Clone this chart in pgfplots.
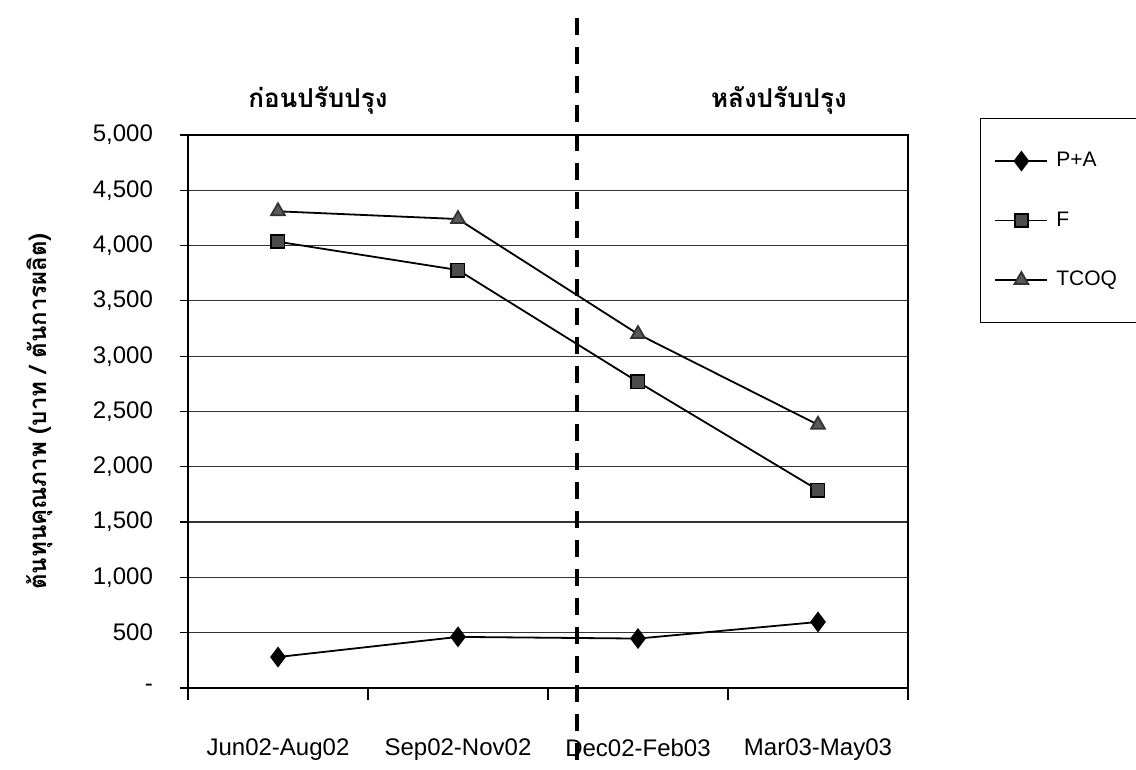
\documentclass[border=0pt]{standalone}
\usepackage{pgfplots}
\pgfplotsset{compat=1.18}
\usepackage{fontspec}
\setmainfont{Liberation Sans}
\newfontfamily\thaifont[Script=Thai]{Loma}

\begin{document}
\begin{tikzpicture}
\begin{axis}[
  at={(0pt,0pt)}, anchor=south west,
  scale only axis, width=360pt, height=276.5pt,
  clip=false,
  xmin=-0.5, xmax=3.5, ymin=0, ymax=5000,
  xtick={0,1,2,3},
  xticklabels={Jun02-Aug02,Sep02-Nov02,Dec02-Feb03,Mar03-May03},
  major x tick style={draw=none},
  minor xtick={-0.5,0.5,1.5,2.5,3.5},
  ytick={0,500,1000,1500,2000,2500,3000,3500,4000,4500,5000},
  yticklabels={-,500,{1,000},{1,500},{2,000},{2,500},{3,000},{3,500},{4,000},{4,500},{5,000}},
  tick align=outside, xtick pos=bottom, ytick pos=left,
  major tick length=4pt, minor tick length=6pt,
  tick style={black, line width=0.6pt},
  ymajorgrids, grid style={black!80, line width=0.6pt},
  axis line style={line width=0.9pt},
  yticklabel style={font=\fontsize{12}{14}\selectfont, xshift=-10pt},
  xticklabel style={font=\fontsize{12}{14}\selectfont, yshift=-18pt},
  ylabel={\thaifont\bfseries ต้นทุนคุณภาพ (บาท / ตันการผลิต)},
  ylabel style={at={(axis description cs:-0.2056,0.5)}, anchor=center,
    font=\fontsize{12}{14}\selectfont},
  legend style={at={(axis description cs:1.1,1.031)}, anchor=north west,
    draw=black, line width=0.5pt, fill=white,
    font=\fontsize{10.5}{13}\selectfont,
    row sep=17pt, inner xsep=7pt, inner ysep=15pt},
  legend cell align=left,
  legend image code/.code={%
    \draw[mark repeat=2, mark phase=2, #1]
      plot coordinates {(0pt,0pt) (13pt,0pt) (26pt,0pt)};},
]
% prevention + appraisal cost
\addplot[black, line width=0.9pt, mark=diamond*, mark size=4.5pt,
  mark options={solid, fill=black}]
  coordinates {(0,280) (1,462) (2,447) (3,597)};
\addlegendentry{\hspace{2pt}P+A}
% failure cost
\addplot[black, line width=0.9pt, mark=square*, mark size=3.3pt,
  mark options={solid, fill=black!70, draw=black}]
  coordinates {(0,4035) (1,3779) (2,2767) (3,1790)};
\addlegendentry{\hspace{2pt}F}
% total cost of quality
\addplot[black, line width=0.9pt, mark=triangle*, mark size=4pt,
  mark options={solid, fill=black!65, draw=black!80}]
  coordinates {(0,4310) (1,4240) (2,3200) (3,2380)};
\addlegendentry{\hspace{2pt}\makebox[40pt][l]{TCOQ}}

% divider between the two periods
\draw[line width=2.2pt, dash pattern=on 8.5pt off 6pt]
  (axis cs:1.661,-651) -- (axis cs:1.661,6130);
% period headings
\node[font=\thaifont\bfseries\fontsize{13}{15}\selectfont]
  at (axis cs:0.222,5316) {ก่อนปรับปรุง};
\node[font=\thaifont\bfseries\fontsize{13}{15}\selectfont]
  at (axis cs:2.783,5316) {หลังปรับปรุง};
\end{axis}
\pgfresetboundingbox
\path[use as bounding box] (-94pt,-41pt) rectangle (474pt,344pt);
\end{tikzpicture}
\end{document}
